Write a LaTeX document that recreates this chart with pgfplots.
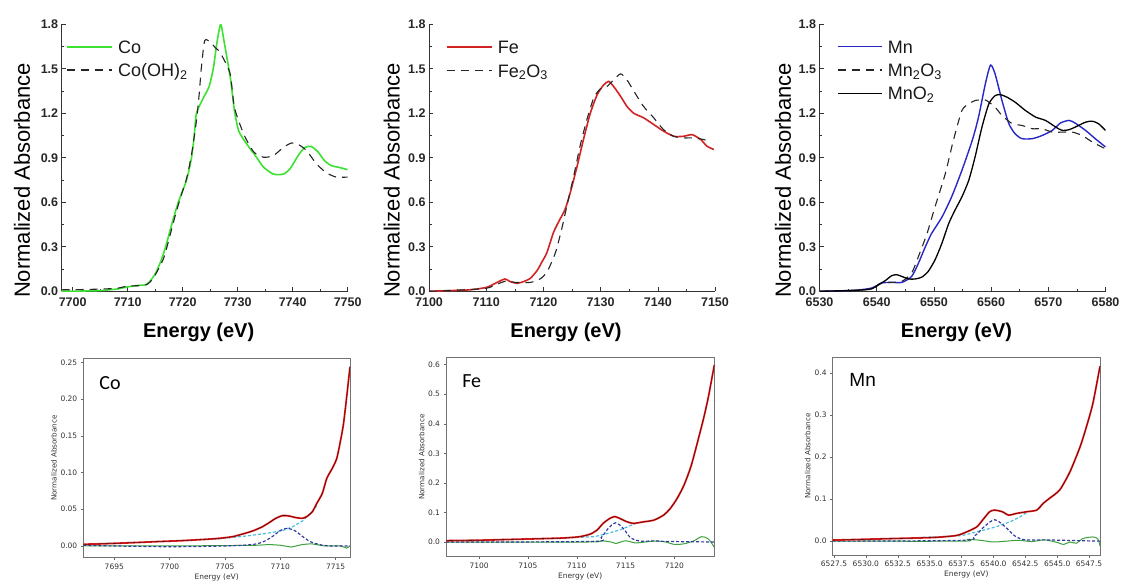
\documentclass[border=0pt]{standalone}
\usepackage{fontspec}
\setmainfont{Liberation Sans}
\newfontfamily\dejavu{DejaVu Sans}
\newfontfamily\carlito{Carlito}
\usepackage{pgfplots}
\pgfplotsset{compat=1.18}
\definecolor{cogreen}{RGB}{60,225,50}
\definecolor{fered}{RGB}{210,35,35}
\definecolor{mnblue}{RGB}{40,40,200}
\definecolor{dred}{RGB}{238,30,30}
\definecolor{cyanD}{RGB}{70,190,220}
\definecolor{blueD}{RGB}{50,60,160}
\definecolor{greenR}{RGB}{60,160,60}
\tikzset{legtext/.style={anchor=base west, inner sep=0pt, font=\fontsize{18}{20}\selectfont, text=black!90}}
\pgfplotsset{
 toppanel/.style={
  scale only axis, width=286pt, height=267pt,
  axis x line=bottom, axis y line=left,
  axis line style={-, black!80, line width=0.7pt},
  ymin=0, ymax=1.8, ytick={0,0.3,0.6,0.9,1.2,1.5,1.8},
  minor x tick num=1, minor y tick num=1,
  tick align=inside, major tick length=4pt, minor tick length=2.5pt,
  every tick/.style={black!80, line width=0.6pt},
  /pgf/number format/assume math mode=true,
  /pgf/number format/1000 sep={},
  ticklabel style={font=\fontsize{12.5}{14}\selectfont\bfseries, text=black!85},
  xticklabel style={yshift=-2.5pt},
  yticklabel style={/pgf/number format/fixed, /pgf/number format/fixed zerofill, /pgf/number format/precision=1},
  xlabel={Energy (eV)},
  xlabel style={font=\fontsize{20}{24}\selectfont\bfseries, at={(axis description cs:0.479,-0.155)}, anchor=center},
  ylabel={Normalized Absorbance},
  ylabel style={font=\fontsize{22}{26}\selectfont, anchor=center},
 },
 bottompanel/.style={
  scale only axis,
  axis line style={black!55, line width=0.5pt},
  xtick pos=bottom, ytick pos=left,
  tick align=outside, major tick length=2.5pt,
  every tick/.style={black!60, line width=0.4pt},
  /pgf/number format/assume math mode=true,
  /pgf/number format/1000 sep={},
  ticklabel style={font=\dejavu\fontsize{7.5}{9}\selectfont, text=black!80},
  xlabel={Energy (eV)}, ylabel={Normalized Absorbance},
  xlabel style={font=\dejavu\fontsize{7.5}{9}\selectfont, text=black!80, at={(axis description cs:0.5,-0.098)}, anchor=center},
  ylabel style={font=\dejavu\fontsize{7.2}{9}\selectfont, text=black!80, anchor=center},
 },
 dat/.style={draw=dred, line width=1.8pt},
 fit/.style={draw=black, line width=0.3pt},
 cyd/.style={draw=cyanD, line width=1.2pt, dash pattern=on 3pt off 2pt},
 bld/.style={draw=blueD, line width=1.2pt, dash pattern=on 3pt off 2pt},
 res/.style={draw=greenR, line width=1pt},
}
\begin{document}
\begin{tikzpicture}
\path[use as bounding box] (0pt,0pt) rectangle (1124pt,581pt);

% ---------------- Top panel 1: Co ----------------
\begin{axis}[toppanel, at={(61.7pt,289.7pt)}, anchor=south west,
  xmin=7698, xmax=7750, xtick={7700,7710,7720,7730,7740,7750},
  ylabel style={at={(axis description cs:-0.139,0.415)}}]
\addplot[draw=cogreen, line width=1.6pt, smooth, tension=0.4] coordinates {
(7698,0.0) (7702,0.002) (7705,0.005) (7708,0.015) (7710,0.03) (7712,0.04) (7713.4,0.045)
(7714.2,0.075) (7715,0.117) (7716,0.2) (7716.9,0.3) (7718,0.45) (7719.2,0.6) (7720.7,0.75)
(7721.6,0.9) (7722.1,1.05) (7722.5,1.2) (7723.7,1.3) (7724.8,1.38) (7725.6,1.51) (7726.2,1.67)
(7726.9,1.80) (7727.5,1.69) (7728.7,1.43) (7729.4,1.22) (7730.2,1.08) (7731.7,0.99) (7733.2,0.915)
(7734.7,0.837) (7736.5,0.79) (7738.3,0.79) (7739.5,0.825) (7741,0.915) (7742.2,0.97) (7743.4,0.976)
(7744.6,0.94) (7745.8,0.88) (7747,0.848) (7748.2,0.837) (7749,0.83) (7750,0.82)};
\addplot[draw=black!85, line width=1.1pt, dash pattern=on 8pt off 6pt, smooth, tension=0.4] coordinates {
(7698,0.01) (7702,0.012) (7705,0.015) (7708,0.02) (7710,0.035) (7713,0.04) (7714,0.06) (7715,0.11)
(7716.6,0.23) (7718.4,0.477) (7719.5,0.62) (7720.7,0.76) (7721.6,0.92) (7722.5,1.15) (7723,1.33)
(7723.4,1.51) (7724,1.69) (7725,1.68) (7726,1.64) (7726.8,1.61) (7728.6,1.47) (7729.4,1.24)
(7731.1,1.06) (7732.9,0.94) (7734.7,0.904) (7736.5,0.915) (7738.3,0.97) (7739.8,1.0) (7741,0.99)
(7742.5,0.95) (7744.3,0.86) (7746.1,0.80) (7747.9,0.77) (7750,0.77)};
\draw[cogreen, line width=1.6pt] (axis description cs:0.0185,0.916) -- ++(45pt,0pt);
\node[legtext] at ([xshift=51pt,yshift=-6.4pt]axis description cs:0.0185,0.916) {Co};
\draw[black!85, line width=1.1pt, dash pattern=on 8pt off 6pt] (axis description cs:0.0185,0.829) -- ++(45pt,0pt);
\node[legtext] at ([xshift=51pt,yshift=-6.4pt]axis description cs:0.0185,0.829) {Co(OH)\textsubscript{2}};
\end{axis}

% ---------------- Top panel 2: Fe ----------------
\begin{axis}[toppanel, at={(429pt,289.7pt)}, anchor=south west,
  xmin=7100, xmax=7150, xtick={7100,7110,7120,7130,7140,7150},
  ylabel style={at={(axis description cs:-0.13,0.415)}}]
\addplot[draw=fered, line width=1.6pt, smooth, tension=0.4] coordinates {
(7100,0.0) (7104,0.005) (7107.2,0.01) (7110.1,0.027) (7111.9,0.06) (7113.3,0.083) (7114.2,0.065)
(7115.4,0.054) (7116.5,0.065) (7117.7,0.087) (7118.9,0.14) (7119.7,0.195) (7120.6,0.26) (7121.8,0.40)
(7122.9,0.486) (7123.8,0.553) (7124.7,0.665) (7125.9,0.844) (7127,1.023) (7128.2,1.2) (7129.4,1.325)
(7130.5,1.39) (7131.4,1.415) (7132.3,1.38) (7133.5,1.314) (7134.6,1.247) (7135.8,1.2) (7137.5,1.17)
(7139.3,1.124) (7141,1.08) (7142.8,1.045) (7144.5,1.045) (7146,1.056) (7147.5,1.023) (7148.6,0.978)
(7149.8,0.956)};
\addplot[draw=black!85, line width=1.1pt, dash pattern=on 8pt off 6pt, smooth, tension=0.4] coordinates {
(7100,0.0) (7105,0.008) (7110,0.02) (7112,0.05) (7113.6,0.07) (7115,0.06) (7117.7,0.06) (7119.4,0.083)
(7120.6,0.128) (7122.1,0.26) (7123.2,0.42) (7124.1,0.575) (7125.3,0.777) (7126.4,0.978) (7127.6,1.157)
(7128.8,1.303) (7129.9,1.363) (7131.1,1.38) (7132.3,1.426) (7133.5,1.466) (7134.6,1.426) (7135.8,1.35)
(7137.5,1.247) (7139.3,1.169) (7141,1.09) (7142.8,1.045) (7144.5,1.034) (7146.3,1.034) (7148,1.023)
(7149.2,1.01)};
\draw[fered, line width=1.6pt] (axis description cs:0.062,0.916) -- ++(45pt,0pt);
\node[legtext] at ([xshift=51pt,yshift=-6.4pt]axis description cs:0.062,0.916) {Fe};
\draw[black!85, line width=1.1pt, dash pattern=on 8pt off 6pt] (axis description cs:0.062,0.826) -- ++(45pt,0pt);
\node[legtext] at ([xshift=51pt,yshift=-6.4pt]axis description cs:0.062,0.826) {Fe\textsubscript{2}O\textsubscript{3}};
\end{axis}

% ---------------- Top panel 3: Mn ----------------
\begin{axis}[toppanel, at={(819.5pt,289.7pt)}, anchor=south west,
  xmin=6530, xmax=6580, xtick={6530,6540,6550,6560,6570,6580},
  ylabel style={at={(axis description cs:-0.128,0.415)}}]
\addplot[draw=mnblue, line width=1.4pt, smooth, tension=0.4] coordinates {
(6530,0.0) (6536.2,0.007) (6539.1,0.022) (6540.9,0.056) (6542.6,0.06) (6544.4,0.06) (6546.1,0.1)
(6547.3,0.19) (6548.5,0.30) (6549.6,0.39) (6551.4,0.50) (6553.1,0.637) (6554.9,0.816) (6556.7,1.017)
(6557.8,1.174) (6559,1.40) (6559.9,1.525) (6560.7,1.465) (6561.9,1.286) (6563.1,1.13) (6564.2,1.062)
(6565.4,1.029) (6567.2,1.029) (6568.9,1.05) (6570.7,1.085) (6572.1,1.134) (6573.6,1.152) (6574.7,1.134)
(6576.5,1.085) (6578.2,1.029) (6580,0.973)};
\addplot[draw=black!85, line width=1.1pt, dash pattern=on 8pt off 6pt, smooth, tension=0.4] coordinates {
(6530,0.0) (6536,0.006) (6539.1,0.016) (6540.9,0.056) (6542.6,0.06) (6544.4,0.067) (6546.1,0.123)
(6547.3,0.235) (6548.8,0.39) (6550.2,0.57) (6552,0.794) (6553.4,1.017) (6554.9,1.219) (6556.1,1.263)
(6557.2,1.286) (6559,1.29) (6560.7,1.241) (6561.9,1.185) (6563.7,1.13) (6565.4,1.118) (6567.2,1.096)
(6568.9,1.096) (6570.7,1.073) (6572.4,1.073) (6574.2,1.073) (6575.9,1.051) (6577.7,1.006) (6580,0.96)};
\addplot[draw=black, line width=1.3pt, smooth, tension=0.4] coordinates {
(6530,0.0) (6536,0.006) (6539.1,0.016) (6540.3,0.045) (6541.5,0.072) (6542.6,0.105) (6543.5,0.112)
(6544.4,0.1) (6545.6,0.083) (6546.7,0.083) (6547.9,0.096) (6549,0.134) (6550.2,0.212) (6551.4,0.324)
(6552.6,0.458) (6553.7,0.548) (6554.9,0.637) (6556.1,0.749) (6557.2,0.906) (6558.4,1.107) (6559.6,1.263)
(6560.7,1.319) (6561.6,1.326) (6562.8,1.308) (6564.2,1.275) (6566,1.219) (6567.8,1.174) (6569.5,1.152)
(6571.3,1.107) (6572.4,1.085) (6573.6,1.089) (6574.7,1.107) (6576.5,1.14) (6577.7,1.147) (6578.8,1.129)
(6580,1.085)};
\draw[mnblue, line width=1.4pt] (axis description cs:0.0636,0.916) -- ++(44pt,0pt);
\node[legtext] at ([xshift=50pt,yshift=-6.4pt]axis description cs:0.0636,0.916) {Mn};
\draw[black!85, line width=1.1pt, dash pattern=on 8pt off 6pt] (axis description cs:0.0636,0.829) -- ++(44pt,0pt);
\node[legtext] at ([xshift=50pt,yshift=-6.4pt]axis description cs:0.0636,0.829) {Mn\textsubscript{2}O\textsubscript{3}};
\draw[black, line width=1.3pt] (axis description cs:0.0636,0.742) -- ++(44pt,0pt);
\node[legtext] at ([xshift=50pt,yshift=-6.4pt]axis description cs:0.0636,0.742) {MnO\textsubscript{2}};
\end{axis}

% ---------------- Bottom panel 1: Co ----------------
\begin{axis}[bottompanel, at={(83.3pt,23.5pt)}, anchor=south west, width=266.7pt, height=199pt,
  xmin=7692.2, xmax=7716.3, ymin=-0.0157, ymax=0.2552,
  xtick={7695,7700,7705,7710,7715}, ytick={0,0.05,0.1,0.15,0.2,0.25},
  yticklabel style={/pgf/number format/fixed, /pgf/number format/fixed zerofill, /pgf/number format/precision=2},
  ylabel style={at={(axis description cs:-0.11,0.5)}}]
\addplot[res] coordinates {(7692.2,0.0) (7700,0.0) (7705,0.0005) (7708,0.001) (7709,0.002) (7710,0.001)
 (7711,-0.0015) (7712,0.002) (7712.8,0.003) (7714,0.0) (7715.5,0.0) (7716,-0.003) (7716.3,0.0)};
\addplot[cyd] coordinates {(7692.2,0.0023) (7699,0.006) (7704.2,0.0095) (7706.6,0.013) (7708.7,0.017)
 (7710.2,0.021) (7711.1,0.026) (7712,0.034) (7712.9,0.047) (7713.3,0.055)};
\addplot[bld, smooth] coordinates {(7692.2,0.001) (7695,0.0) (7700,-0.001) (7705,0.0) (7707.5,0.002)
 (7708.5,0.006) (7709.3,0.013) (7710,0.021) (7710.6,0.024) (7711.3,0.021) (7712,0.013) (7712.7,0.006)
 (7713.5,0.002) (7714.5,0.0) (7716.3,0.0)};
\addplot[dat, smooth, tension=0.4] coordinates {(7692.2,0.0023) (7694,0.003) (7696.7,0.0045) (7699,0.006)
 (7701.2,0.0073) (7704.2,0.010) (7705.7,0.0127) (7706.6,0.0163) (7707.5,0.0204) (7708.4,0.0263) (7709,0.0318)
 (7709.6,0.0377) (7710.2,0.0413) (7710.8,0.0408) (7711.4,0.0386) (7712,0.0377) (7712.4,0.040) (7712.9,0.0467)
 (7713.3,0.058) (7713.8,0.0717) (7714.2,0.092) (7714.7,0.1057) (7715.1,0.119) (7715.4,0.14) (7715.7,0.165)
 (7716,0.203) (7716.3,0.244)};
\addplot[fit, smooth, tension=0.4] coordinates {(7692.2,0.0023) (7694,0.003) (7696.7,0.0045) (7699,0.006)
 (7701.2,0.0073) (7704.2,0.010) (7705.7,0.0127) (7706.6,0.0163) (7707.5,0.0204) (7708.4,0.0263) (7709,0.0318)
 (7709.6,0.0377) (7710.2,0.0413) (7710.8,0.0408) (7711.4,0.0386) (7712,0.0377) (7712.4,0.040) (7712.9,0.0467)
 (7713.3,0.058) (7713.8,0.0717) (7714.2,0.092) (7714.7,0.1057) (7715.1,0.119) (7715.4,0.14) (7715.7,0.165)
 (7716,0.203) (7716.3,0.244)};
\node[font=\carlito\fontsize{20}{24}\selectfont] at (axis description cs:0.1,0.875) {Co};
\end{axis}

% ---------------- Bottom panel 2: Fe ----------------
\begin{axis}[bottompanel, at={(446pt,24.3pt)}, anchor=south west, width=268.3pt, height=199.4pt,
  xmin=7096.6, xmax=7124.1, ymin=-0.0497, ymax=0.625,
  xtick={7100,7105,7110,7115,7120}, ytick={0,0.1,0.2,0.3,0.4,0.5,0.6},
  yticklabel style={/pgf/number format/fixed, /pgf/number format/fixed zerofill, /pgf/number format/precision=1},
  ylabel style={at={(axis description cs:-0.0906,0.5)}}]
\addplot[res, smooth] coordinates {(7096.6,0.0) (7111,0.0) (7112.5,0.004) (7113.5,0.0) (7114,-0.005)
 (7115,0.004) (7116,-0.003) (7117,0.0) (7118,0.003) (7119,0.001) (7120,-0.008) (7121,-0.006) (7122,0.004)
 (7122.8,0.018) (7123.5,0.01) (7124.1,-0.018)};
\addplot[cyd] coordinates {(7096.6,0.0045) (7105,0.01) (7110.3,0.016) (7111.8,0.018) (7113.2,0.029)
 (7114.4,0.041) (7115.4,0.054) (7116.2,0.065)};
\addplot[bld, smooth] coordinates {(7096.6,0.0) (7111.5,0.002) (7112.5,0.015) (7113.2,0.045) (7114,0.065)
 (7114.8,0.045) (7115.5,0.015) (7116.5,0.003) (7118,0.004) (7119,0.002) (7124.1,0.0)};
\addplot[dat, smooth, tension=0.4] coordinates {(7096.6,0.0045) (7100,0.006) (7103.5,0.009) (7106,0.011)
 (7108.6,0.0135) (7110.3,0.018) (7111.4,0.027) (7112.1,0.041) (7112.7,0.063) (7113.4,0.080) (7113.9,0.086)
 (7114.4,0.080) (7115.1,0.069) (7115.8,0.063) (7116.8,0.068) (7117.9,0.074) (7118.9,0.091) (7119.6,0.114)
 (7120.3,0.148) (7121,0.193) (7121.7,0.255) (7122.3,0.328) (7123,0.418) (7123.5,0.492) (7124.1,0.599)};
\addplot[fit, smooth, tension=0.4] coordinates {(7096.6,0.0045) (7100,0.006) (7103.5,0.009) (7106,0.011)
 (7108.6,0.0135) (7110.3,0.018) (7111.4,0.027) (7112.1,0.041) (7112.7,0.063) (7113.4,0.080) (7113.9,0.086)
 (7114.4,0.080) (7115.1,0.069) (7115.8,0.063) (7116.8,0.068) (7117.9,0.074) (7118.9,0.091) (7119.6,0.114)
 (7120.3,0.148) (7121,0.193) (7121.7,0.255) (7122.3,0.328) (7123,0.418) (7123.5,0.492) (7124.1,0.599)};
\node[font=\carlito\fontsize{20}{24}\selectfont] at (axis description cs:0.096,0.881) {Fe};
\end{axis}

% ---------------- Bottom panel 3: Mn ----------------
\begin{axis}[bottompanel, at={(832.7pt,26pt)}, anchor=south west, width=267.3pt, height=197.7pt,
  xmin=6527.4, xmax=6548.36, ymin=-0.033, ymax=0.438,
  xtick={6527.5,6530,6532.5,6535,6537.5,6540,6542.5,6545,6547.5}, ytick={0,0.1,0.2,0.3,0.4},
  xticklabel style={/pgf/number format/fixed, /pgf/number format/fixed zerofill, /pgf/number format/precision=1},
  yticklabel style={/pgf/number format/fixed, /pgf/number format/fixed zerofill, /pgf/number format/precision=1},
  ylabel style={at={(axis description cs:-0.0935,0.5)}}]
\addplot[res, smooth] coordinates {(6527.4,0.0) (6537.5,0.0) (6538,0.004) (6539,0.002) (6540,-0.002)
 (6541,0.0) (6542,0.002) (6543,-0.001) (6544,0.003) (6545,-0.003) (6545.5,-0.008) (6546,-0.002)
 (6546.5,-0.005) (6547,0.006) (6547.8,0.01) (6548.2,0.005) (6548.36,-0.012)};
\addplot[cyd] coordinates {(6527.4,0.0024) (6533,0.007) (6537.5,0.013) (6539.2,0.026) (6540.2,0.034)
 (6541.3,0.046) (6542.1,0.058) (6542.6,0.068)};
\addplot[bld, smooth] coordinates {(6527.4,0.0) (6537.5,0.002) (6538.5,0.012) (6539.3,0.035) (6540.1,0.051)
 (6540.9,0.035) (6541.7,0.012) (6542.5,0.003) (6544,0.003) (6548.36,0.0)};
\addplot[dat, smooth, tension=0.4] coordinates {(6527.4,0.0024) (6531.4,0.0056) (6535.3,0.0087) (6537.1,0.0135)
 (6537.9,0.022) (6538.7,0.034) (6539.2,0.052) (6539.7,0.07) (6540.1,0.074) (6540.7,0.07) (6541.2,0.062)
 (6541.8,0.066) (6542.6,0.07) (6543.4,0.074) (6543.9,0.09) (6544.4,0.102) (6545.2,0.122) (6546,0.165)
 (6546.8,0.225) (6547.3,0.273) (6547.8,0.328) (6548.36,0.417)};
\addplot[fit, smooth, tension=0.4] coordinates {(6527.4,0.0024) (6531.4,0.0056) (6535.3,0.0087) (6537.1,0.0135)
 (6537.9,0.022) (6538.7,0.034) (6539.2,0.052) (6539.7,0.07) (6540.1,0.074) (6540.7,0.07) (6541.2,0.062)
 (6541.8,0.066) (6542.6,0.07) (6543.4,0.074) (6543.9,0.09) (6544.4,0.102) (6545.2,0.122) (6546,0.165)
 (6546.8,0.225) (6547.3,0.273) (6547.8,0.328) (6548.36,0.417)};
\node[font=\fontsize{19}{22}\selectfont] at (axis description cs:0.112,0.885) {Mn};
\end{axis}
\end{tikzpicture}
\end{document}
